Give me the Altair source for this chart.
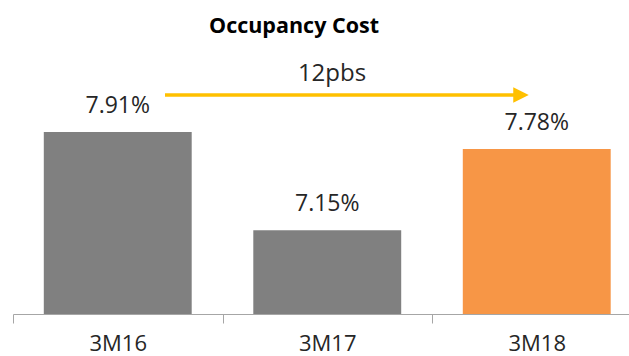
import altair as alt
import pandas as pd

# Occupancy cost by period
periods = ["3M16", "3M17", "3M18"]
costs = [7.91, 7.15, 7.78]
labels = ["7.91%", "7.15%", "7.78%"]
bar_colors = ["#808080", "#808080", "#F79646"]
change_label = "12pbs"

df = pd.DataFrame({"period": periods, "cost": costs, "label": labels, "color": bar_colors})

FONT = "Open Sans"

x_enc = alt.X(
    "period:N",
    sort=periods,
    scale=alt.Scale(range=[0, 628.5], paddingInner=0, paddingOuter=0),
    axis=alt.Axis(
        title=None,
        tickBand="extent",
        domainColor="#A6A6A6",
        tickColor="#A6A6A6",
        tickSize=9,
        labelFont=FONT,
        labelFontSize=22,
        labelColor="#262626",
        labelBaseline="alphabetic",
        labelPadding=27,
        labelAngle=0,
        grid=False,
    ),
)
y_scale = alt.Scale(domain=[6.5, 8.624], nice=False, zero=False, clamp=True)

bars = alt.Chart(df).mark_bar(width=alt.RelativeBandSize(0.706)).encode(
    x=x_enc,
    y=alt.Y("cost:Q", scale=y_scale, axis=None),
    y2=alt.datum(6.5),
    color=alt.Color("color:N", scale=None),
)

values = alt.Chart(df).mark_text(
    font=FONT, fontSize=23, color="#262626", baseline="alphabetic", dy=-19
).encode(
    x=alt.X("period:N", sort=periods),
    y=alt.Y("cost:Q", scale=y_scale, axis=None),
    text="label:N",
)

# change arrow across the periods
arrow_line = alt.Chart(df.head(1)).mark_rule(color="#FFC000", strokeWidth=3.5).encode(
    x=alt.value(152), x2=alt.value(510), y=alt.value(55)
)
arrow_head = alt.Chart(df.head(1)).mark_point(
    shape="M-1,-1L1,0L-1,1Z", filled=True, color="#FFC000", opacity=1, size=240
).encode(x=alt.value(508), y=alt.value(55))
arrow_text = alt.Chart(df.head(1)).mark_text(
    font=FONT, fontSize=24, color="#262626", baseline="alphabetic"
).encode(x=alt.value(319), y=alt.value(40.7), text=alt.value(change_label))

chart = (
    alt.layer(bars, values, arrow_line, arrow_head, arrow_text)
    .properties(
        width=616,
        height=274,
        background="white",
        autosize=alt.AutoSizeParams(type="none"),
        padding={"left": 13, "top": 40, "right": 0, "bottom": 42},
        title=alt.TitleParams(
            "Occupancy Cost",
            font=FONT,
            fontSize=21.5,
            fontWeight="bold",
            color="#000000",
            anchor="middle",
            dx=-27,
            baseline="alphabetic",
            offset=-14,
        ),
    )
    .configure_view(strokeWidth=0, stroke="transparent")
    .configure_axis(grid=False)
)

chart.save("out.html", embed_options={"renderer": "svg", "actions": False})
